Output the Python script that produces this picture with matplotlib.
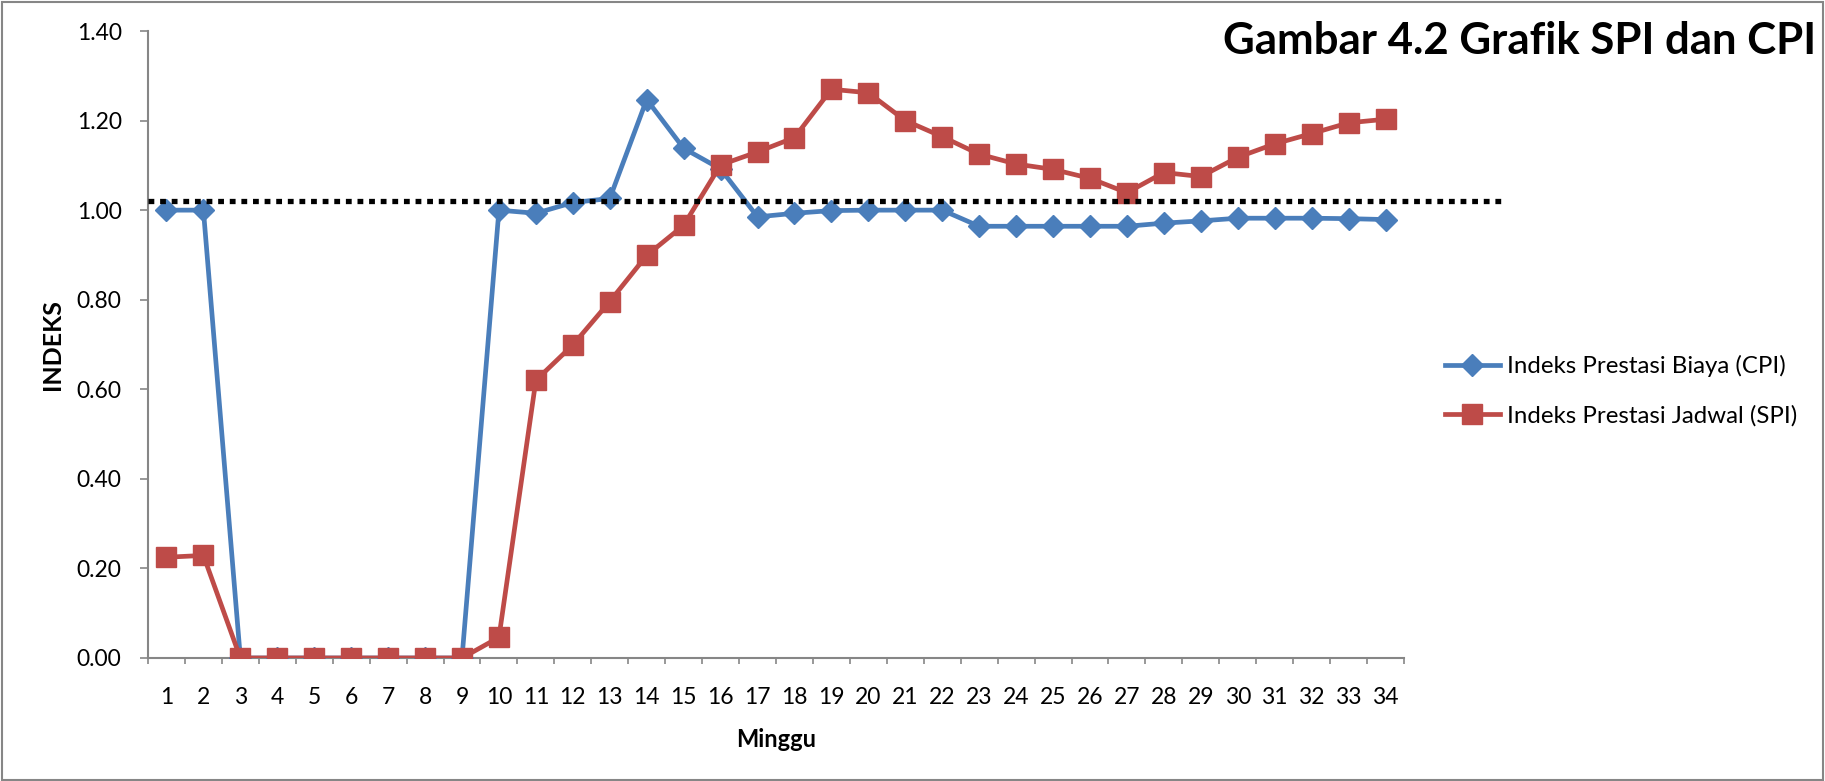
import matplotlib
matplotlib.use("Agg")
import matplotlib.pyplot as plt
from matplotlib.patches import Rectangle

plt.rcParams['font.family'] = ['Lato', 'DejaVu Sans']

# Data
minggu = list(range(1, 35))
cpi = [1.00, 1.00, 0.00, 0.00, 0.00, 0.00, 0.00, 0.00, 0.00, 1.00,
       0.993, 1.017, 1.026, 1.247, 1.138, 1.092, 0.985, 0.993, 0.999, 1.00,
       1.00, 1.00, 0.964, 0.964, 0.964, 0.964, 0.964, 0.971, 0.976, 0.982,
       0.982, 0.982, 0.981, 0.979]
spi = [0.225, 0.229, 0.00, 0.00, 0.00, 0.00, 0.00, 0.00, 0.00, 0.046,
       0.620, 0.699, 0.796, 0.899, 0.966, 1.101, 1.130, 1.162, 1.270, 1.262,
       1.200, 1.164, 1.125, 1.103, 1.091, 1.071, 1.039, 1.084, 1.075, 1.118,
       1.148, 1.171, 1.195, 1.203]
batas = 1.02
y_ticks = [0.0, 0.2, 0.4, 0.6, 0.8, 1.0, 1.2, 1.4]

blue = '#4A7EBB'
red = '#BE4B48'
grey = '#868686'

fig = plt.figure(figsize=(18.25, 7.81), dpi=100)
ax = fig.add_axes([148 / 1825, 1 - 658 / 781, (1404 - 148) / 1825, (658 - 31) / 781])

ax.plot(minggu, cpi, color=blue, lw=3.4, marker='D', markersize=11,
        label='Indeks Prestasi Biaya (CPI)', zorder=3)
ax.plot(minggu, spi, color=red, lw=3.4, marker='s', markersize=14,
        label='Indeks Prestasi Jadwal (SPI)', zorder=4)

# dotted reference line, runs past the plot area like in the original
ax.axhline(batas, xmin=0, xmax=1.077, color='black', lw=3.8,
           linestyle=(0, (1.1, 1.1)), dash_capstyle='butt', clip_on=False, zorder=5)

ax.set_xlim(0.5, 34.5)
ax.set_ylim(0, 1.4)
ax.set_yticks(y_ticks)
ax.set_yticklabels([f'{v:.2f}' for v in y_ticks])
ax.set_xticks(minggu)
ax.set_xticklabels([str(m) for m in minggu])
ax.set_xticks([m + 0.5 for m in range(0, 35)], minor=True)

ax.tick_params(axis='x', which='major', length=0, pad=21, labelsize=16.5)
ax.tick_params(axis='x', which='minor', length=4.5, width=1.2, color=grey, direction='out')
ax.tick_params(axis='y', length=6, width=1.2, color=grey, direction='out', pad=13, labelsize=16.5)

for side in ['top', 'right']:
    ax.spines[side].set_visible(False)
for side in ['left', 'bottom']:
    ax.spines[side].set_color(grey)
    ax.spines[side].set_linewidth(1.5)

ax.set_xlabel('Minggu', fontsize=17, fontweight='bold', labelpad=14)
ax.set_ylabel('INDEKS', fontsize=18, fontweight='bold', labelpad=9)

fig.text(0.995, 1 - 41 / 781, 'Gambar 4.2 Grafik SPI dan CPI', ha='right', va='center',
         fontsize=31.5, fontweight='bold')

ax.legend(loc='center left', bbox_to_anchor=(1423 / 1825, 1 - 391 / 781),
          bbox_transform=fig.transFigure, frameon=False, fontsize=17.3,
          handlelength=2.3, handletextpad=0.3, labelspacing=1.15)

# outer chart border
fig.patches.append(Rectangle((0.001, 0.001), 0.998, 0.996, transform=fig.transFigure,
                             fill=False, edgecolor=grey, lw=1.5))

plt.savefig('out.png', dpi=100)
